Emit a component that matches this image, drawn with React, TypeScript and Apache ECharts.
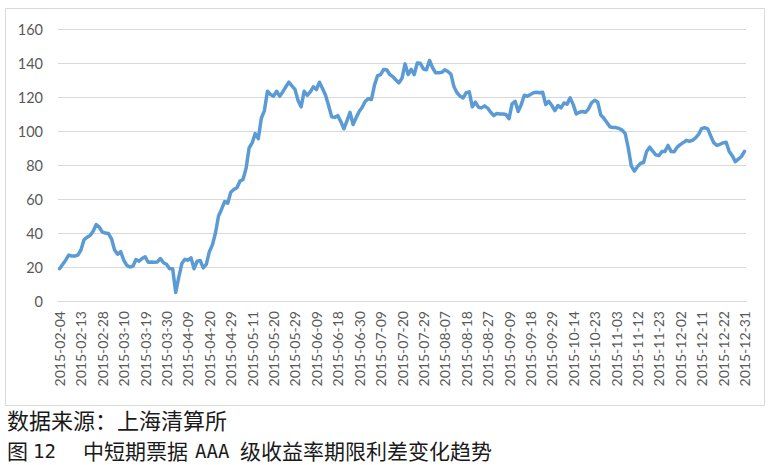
import React, { useEffect, useRef } from "react";
import * as echarts from "echarts";

// Trading-day calendar of the interbank market, 2015-02-04 .. 2015-12-31
const START_DATE = "2015-02-04";
const END_DATE = "2015-12-31";
const HOLIDAYS = [
  "2015-02-18", "2015-02-19", "2015-02-20", "2015-02-23", "2015-02-24",
  "2015-04-06", "2015-05-01", "2015-06-22", "2015-09-03", "2015-09-04",
  "2015-10-01", "2015-10-02", "2015-10-05", "2015-10-06", "2015-10-07",
];
const MAKEUP_DAYS = ["2015-02-15", "2015-02-28", "2015-10-10"];

// Spread (bp), one value per trading day
const SPREAD = [
  19, 21.5, 24, 27, 26.5, 26.5, 27, 30, 36, 37.5,
  38.5, 41, 45, 43.5, 40.5, 40, 39.7, 36.6, 30, 27.5,
  29, 24, 21, 20, 20.5, 24.4, 23.4, 25, 26, 22.8,
  23, 22.8, 23, 25, 22.5, 21.6, 19, 19, 5, 14,
  22, 24.5, 24, 25.4, 19, 23.4, 23.8, 19.5, 21.5, 29,
  33, 40, 50, 54, 58.5, 57.5, 64, 65.6, 66.6, 70.5,
  71.5, 78, 90, 93, 98.5, 95.5, 107.5, 112, 123.4, 121.5,
  120.5, 123.4, 120.5, 123, 126, 128.7, 126.5, 124.5, 118, 114.2,
  123.4, 121, 123, 126, 124.4, 128.7, 125, 121, 115, 108.4,
  108, 109, 105.5, 101.3, 106, 111, 103.8, 107.8, 111.5, 114,
  117.5, 119, 118.5, 127, 132.5, 133.2, 136.2, 136, 133.2, 132,
  130, 128.3, 131, 139.5, 133.2, 136.2, 133.2, 140, 139.8, 136.5,
  136, 141.5, 137.2, 134.2, 134.2, 134.5, 136, 135, 133.5, 126,
  122.5, 120.5, 119.5, 122.5, 123, 114.2, 117, 114, 113.6, 114.8,
  113.5, 111, 109.1, 110.3, 110, 110, 109.7, 107.2, 116, 117.5,
  111.5, 115.5, 121, 120.5, 121.5, 122.5, 122.8, 122.5, 122.8, 115.5,
  117.5, 115, 112, 115, 113.6, 116.5, 115.8, 119.5, 115.5, 110,
  111, 111.5, 111, 113, 116.6, 118.1, 117, 109.5, 107.5, 105,
  102.5, 102, 102, 101.5, 100.5, 98.5, 90, 79.3, 76.4, 79,
  81, 81.5, 88, 90.5, 88.1, 86, 85.5, 88, 88, 91.5,
  88, 87.8, 90.5, 92, 93.2, 94.5, 94, 94.5, 96, 98,
  101.5, 101.9, 101.3, 96.9, 93, 91.5, 92.2, 93, 93.4, 88,
  85.5, 82, 83.5, 85, 88,
];

const Y_MIN = 0;
const Y_MAX = 160;
const Y_STEP = 20;

const SOURCE_TEXT = "数据来源：上海清算所";
const TITLE_PREFIX = "图";
const TITLE_NUMBER = "12";
const TITLE_PART1 = "中短期票据";
const TITLE_RATING = "AAA";
const TITLE_PART2 = "级收益率期限利差变化趋势";

function buildTradingDays(start: string, end: string): string[] {
  const out: string[] = [];
  const hol = new Set(HOLIDAYS);
  const mk = new Set(MAKEUP_DAYS);
  const d = new Date(start + "T00:00:00Z");
  const e = new Date(end + "T00:00:00Z");
  while (d.getTime() <= e.getTime()) {
    const s = d.toISOString().slice(0, 10);
    const wd = d.getUTCDay();
    const weekday = wd >= 1 && wd <= 5;
    if ((weekday && !hol.has(s)) || mk.has(s)) out.push(s);
    d.setUTCDate(d.getUTCDate() + 1);
  }
  return out;
}

const DATES = buildTradingDays(START_DATE, END_DATE);

export default function App() {
  const ref = useRef<HTMLDivElement>(null);
  useEffect(() => {
    if (!ref.current) return;
    const chart = echarts.init(ref.current, null, { renderer: "svg" });
    const cjk = '"Noto Sans CJK SC", sans-serif';
    const mono = '"DejaVu Sans Mono", monospace';
    const capColor = "#1a1a1a";
    const cap = (x: number, y: number, text: string, size: number, family: string) => ({
      type: "text",
      x,
      y,
      silent: true,
      style: {
        text,
        fontSize: size,
        fontFamily: family,
        lineHeight: size,
        fill: capColor,
        verticalAlign: "middle",
      },
    });
    chart.setOption({
      animation: false,
      backgroundColor: "#ffffff",
      grid: { left: 58, right: 25, top: 29, bottom: 164, containLabel: false },
      xAxis: {
        type: "category",
        data: DATES,
        boundaryGap: true,
        axisLine: { show: true, lineStyle: { color: "#d9d9d9", width: 1 } },
        axisTick: { show: false },
        axisLabel: {
          interval: 6,
          rotate: 90,
          margin: 10,
          color: "#595959",
          fontFamily: "Lato, sans-serif",
          fontSize: 14,
        },
        splitLine: { show: false },
      },
      yAxis: {
        type: "value",
        min: Y_MIN,
        max: Y_MAX,
        interval: Y_STEP,
        axisLine: { show: false },
        axisTick: { show: false },
        axisLabel: {
          margin: 15,
          color: "#595959",
          fontFamily: "Lato, sans-serif",
          fontSize: 14.5,
        },
        splitLine: { lineStyle: { color: "#d9d9d9", width: 1 } },
      },
      series: [
        {
          type: "line",
          data: SPREAD,
          symbol: "none",
          lineStyle: { color: "#5b9bd5", width: 3.5, cap: "round", join: "round" },
          itemStyle: { color: "#5b9bd5" },
        },
      ],
      graphic: [
        {
          type: "rect",
          shape: { x: 5.5, y: 8.5, width: 759, height: 397 },
          style: { fill: "none", stroke: "#d9d9d9", lineWidth: 1 },
          silent: true,
        },
        cap(7, 418.5, SOURCE_TEXT, 22, cjk),
        cap(7, 449.5, TITLE_PREFIX, 21, cjk),
        cap(33, 450.5, TITLE_NUMBER, 19, mono),
        cap(83, 449.5, TITLE_PART1, 21, cjk),
        cap(195, 450.5, TITLE_RATING, 19, mono),
        cap(240, 449.5, TITLE_PART2, 21, cjk),
      ],
    });
    return () => chart.dispose();
  }, []);
  return (
    <div
      ref={ref}
      style={{ position: "fixed", left: 0, top: 0, width: 771, height: 465, background: "#fff" }}
    />
  );
}
